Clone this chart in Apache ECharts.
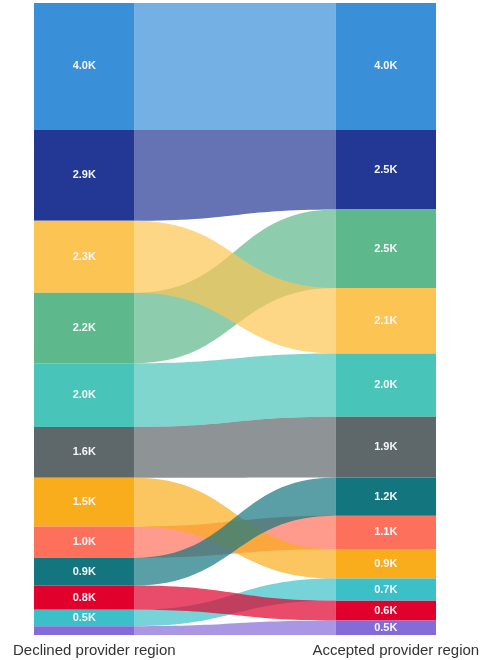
<!DOCTYPE html>
<html>
<head>
<meta charset="utf-8">
<script src="https://cdn.jsdelivr.net/npm/echarts@6/dist/echarts.min.js"></script>
<style>
  html, body { margin: 0; padding: 0; background: #fff; }
</style>
</head>
<body>
<div id="sankey-chart" style="width: 483px; height: 660px"></div>
<script>
// regions (names are not shown on the chart, only the colours)
const regions = ["Region A", "Region B", "Region C", "Region D", "Region E", "Region F",
  "Region G", "Region H", "Region I", "Region J", "Region K", "Region L"];
// same region order as above
const declinedValues = [4020, 2880, 2280, 2230, 2020, 1610, 1540, 990, 880, 770, 520, 280];
const acceptedValues = [4020, 2520, 2070, 2490, 2010, 1920, 930, 1060, 1210, 630, 700, 460];
const columnNames = ["Declined provider region", "Accepted provider region"];

const regionColors = ["#3a8fd9", "#233895", "#fcc553", "#5db88b", "#48c4b9", "#5e6769",
  "#f9ac1c", "#fd705c", "#13767f", "#e0002b", "#3cc0c8", "#856bd7"];
// which link is painted over which where they cross (indexes into regions)
const linkPaintOrder = [0, 1, 3, 2, 4, 5, 7, 6, 8, 10, 9, 11];

// stack a column biggest first, returns [start, end] per region
function stackColumn(values) {
  const order = regions.map((r, i) => i).sort((a, b) => values[b] - values[a]);
  const pos = [];
  let acc = 0;
  order.forEach((i) => {
    pos[i] = [acc, acc + values[i]];
    acc += values[i];
  });
  return { pos: pos, total: acc };
}

const left = stackColumn(declinedValues);
const right = stackColumn(acceptedValues);
const yMax = Math.max(left.total, right.total);

const nodeData = [];
regions.forEach((r, i) => {
  nodeData.push([0, left.pos[i][0], left.pos[i][1], declinedValues[i], i]);
  nodeData.push([1, right.pos[i][0], right.pos[i][1], acceptedValues[i], i]);
});
const linkData = linkPaintOrder.map((i) =>
  [left.pos[i][0], left.pos[i][1], right.pos[i][0], right.pos[i][1], i]);

function fmtK(v) {
  return (v / 1000).toFixed(1) + "K";
}

function renderNode(params, api) {
  const col = api.value(0);
  const p0 = api.coord([col === 0 ? 0 : 3, api.value(1)]);
  const p1 = api.coord([col === 0 ? 1 : 4, api.value(2)]);
  const h = p1[1] - p0[1];
  return {
    type: "rect",
    shape: { x: p0[0], y: p0[1], width: p1[0] - p0[0], height: h },
    style: { fill: regionColors[api.value(4)] },
    textContent: {
      style: {
        text: h >= 12 ? fmtK(api.value(3)) : "",
        fill: "#f4f6fa",
        fontSize: 11,
        fontWeight: "bold",
        fontFamily: "Arial, 'Liberation Sans', sans-serif",
      },
    },
    textConfig: { position: "inside" },
  };
}

function renderLink(params, api) {
  const a0 = api.coord([1, api.value(0)]);
  const a1 = api.coord([1, api.value(1)]);
  const b0 = api.coord([3, api.value(2)]);
  const b1 = api.coord([3, api.value(3)]);
  const mx = (a0[0] + b0[0]) / 2;
  const d =
    "M" + a0[0] + "," + a0[1] +
    " C" + mx + "," + a0[1] + " " + mx + "," + b0[1] + " " + b0[0] + "," + b0[1] +
    " L" + b1[0] + "," + b1[1] +
    " C" + mx + "," + b1[1] + " " + mx + "," + a1[1] + " " + a1[0] + "," + a1[1] + " Z";
  return {
    type: "path",
    shape: { pathData: d },
    style: { fill: regionColors[api.value(4)], opacity: 0.7 },
  };
}

const myChart = echarts.init(document.getElementById("sankey-chart"));

const option = {
  animation: false,
  grid: { left: 34, right: 47, top: 3, bottom: 25 },
  xAxis: {
    type: "value",
    min: 0,
    max: 4,
    axisLine: { show: false },
    axisTick: { show: false },
    splitLine: { show: false },
    axisLabel: {
      customValues: [0.6, 3.6],
      margin: 8,
      fontSize: 15,
      color: "#333",
      fontFamily: "Arial, 'Liberation Sans', sans-serif",
      formatter: (v) => (v < 2 ? columnNames[0] : columnNames[1]),
    },
  },
  yAxis: {
    type: "value",
    min: 0,
    max: yMax,
    inverse: true,
    show: false,
  },
  series: [
    {
      type: "custom",
      renderItem: renderLink,
      data: linkData,
      encode: { x: [], y: [0, 1] },
      silent: true,
      z: 2,
    },
    {
      type: "custom",
      renderItem: renderNode,
      data: nodeData,
      encode: { x: [0], y: [1, 2] },
      z: 3,
    },
  ],
};

myChart.setOption(option);
</script>
</body>
</html>
